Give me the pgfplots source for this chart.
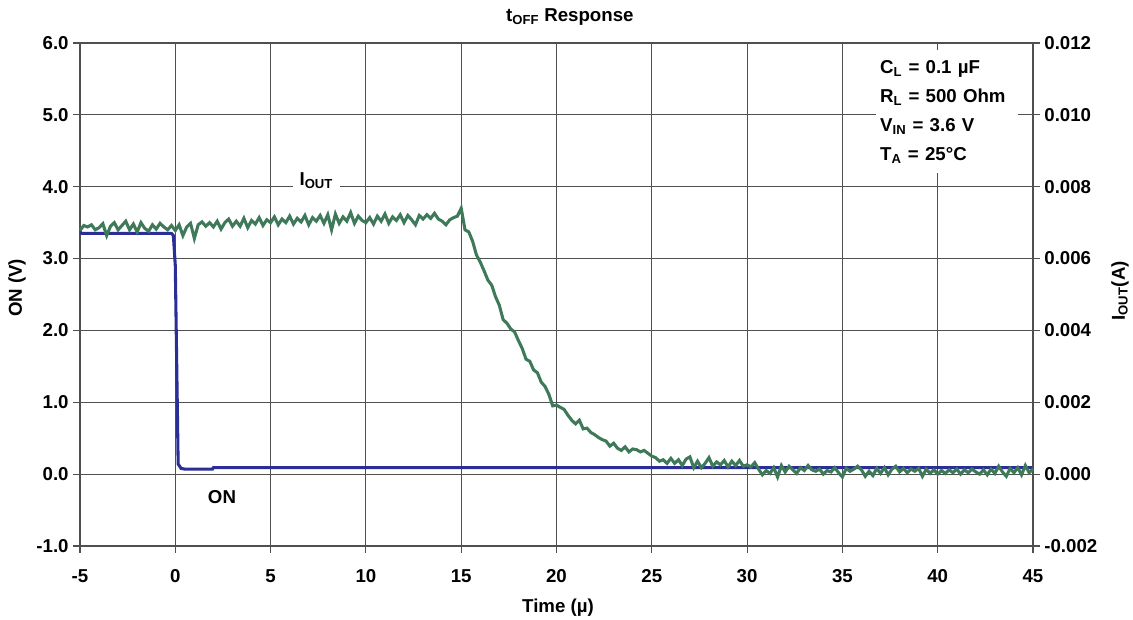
\documentclass[border=0pt]{standalone}
\usepackage{fontspec}
\setmainfont{Liberation Sans}
\usepackage{pgfplots}
\pgfplotsset{compat=1.18}

\definecolor{onblue}{RGB}{43,46,150}
\definecolor{ioutgreen}{RGB}{62,122,90}
\definecolor{gridgray}{RGB}{80,80,80}

\newcommand{\lblfont}{\bfseries\fontsize{14}{16}\selectfont}

\pgfplotsset{
  every axis title shift=0pt,
  base/.style={
    scale only axis, width=714.75pt, height=377.25pt,
    xmin=-5, xmax=45,
    tick align=outside, major tick length=5pt,
    tick style={gridgray, line width=0.8pt},
    axis line style={gridgray, line width=0.8pt},
    ticklabel style={font=\lblfont},
    /pgf/number format/assume math mode=true,
    label style={font=\lblfont},
  }
}

\begin{document}
\begin{tikzpicture}
\path[use as bounding box] (-60pt,-55.5pt) rectangle (789.75pt,409.5pt);

\begin{axis}[base,
  ymin=-1, ymax=6,
  xtick={-5,0,...,45}, ytick={-1,0,...,6},
  xtick pos=bottom, ytick pos=left,
  grid=major, major grid style={gridgray, line width=0.8pt},
  yticklabel style={/pgf/number format/.cd, fixed, fixed zerofill, precision=1},
  xticklabel style={yshift=-9pt},
  xlabel={Time (µ)}, ylabel={ON (V)},
  x label style={at={(axis description cs:0.5016,-0.1233)}, anchor=center},
  y label style={at={(axis description cs:-0.0661,0.513)}, anchor=center},
  title={t\textsubscript{OFF} Response},
  title style={at={(axis description cs:0.514,1.0517)}, anchor=center, font=\lblfont},
]
\addplot[onblue, line width=2.3pt] coordinates {
(-5,3.37) (-4.9,3.35) (-0.2,3.35) (-0.1,3.32) (0.0,2.9) (0.15,0.14)
(0.3,0.08) (0.5,0.07) (1.95,0.07) (2.0,0.09) (45,0.09)
};
\end{axis}

\begin{axis}[base,
  ymin=-0.002, ymax=0.012,
  ytick={-0.002,0,0.002,0.004,0.006,0.008,0.010,0.012},
  axis x line=none, axis y line*=right,
  scaled y ticks=false,
  yticklabel style={/pgf/number format/.cd, fixed, fixed zerofill, precision=3},
  ylabel={I\textsubscript{OUT}(A)},
  y label style={at={(axis description cs:1.0913,0.507)}, anchor=center},
  clip=false,
]
\addplot[ioutgreen, line width=2.3pt] coordinates {
(-5.0,0.00678) (-4.8,0.00692) (-4.6,0.00688) (-4.4,0.00694) (-4.2,0.00680)
(-4.0,0.00686) (-3.8,0.00697) (-3.6,0.00664) (-3.4,0.00690) (-3.2,0.00700)
(-3.0,0.00680) (-2.8,0.00692) (-2.6,0.00704) (-2.4,0.00680) (-2.2,0.00696)
(-2.0,0.00674) (-1.8,0.00700) (-1.6,0.00684) (-1.4,0.00676) (-1.2,0.00694)
(-1.0,0.00682) (-0.8,0.00698) (-0.6,0.00688) (-0.4,0.00680) (-0.2,0.00692)
(0.0,0.00678) (0.2,0.00694) (0.4,0.00664) (0.6,0.00688) (0.8,0.00698)
(1.0,0.00656) (1.2,0.00694) (1.4,0.00702) (1.6,0.00690) (1.8,0.00700)
(2.0,0.00688) (2.2,0.00704) (2.4,0.00682) (2.6,0.00700) (2.8,0.00710)
(3.0,0.00690) (3.2,0.00704) (3.4,0.00690) (3.6,0.00712) (3.8,0.00686)
(4.0,0.00706) (4.2,0.00696) (4.4,0.00714) (4.6,0.00692) (4.8,0.00708)
(5.0,0.00700) (5.2,0.00716) (5.4,0.00694) (5.6,0.00710) (5.8,0.00700)
(6.0,0.00718) (6.2,0.00696) (6.4,0.00712) (6.6,0.00702) (6.8,0.00720)
(7.0,0.00694) (7.2,0.00714) (7.4,0.00704) (7.6,0.00720) (7.8,0.00698)
(8.0,0.00722) (8.2,0.00680) (8.4,0.00724) (8.6,0.00698) (8.8,0.00716)
(9.0,0.00704) (9.2,0.00728) (9.4,0.00698) (9.6,0.00718) (9.8,0.00706)
(10.0,0.00700) (10.2,0.00714) (10.4,0.00696) (10.6,0.00718) (10.8,0.00704)
(11.0,0.00724) (11.2,0.00698) (11.4,0.00716) (11.6,0.00706) (11.8,0.00722)
(12.0,0.00700) (12.2,0.00720) (12.4,0.00708) (12.6,0.00694) (12.8,0.00720)
(13.0,0.00710) (13.2,0.00722) (13.4,0.00712) (13.6,0.00726) (13.8,0.00710)
(14.0,0.00704) (14.2,0.00694) (14.4,0.00708) (14.6,0.00714) (14.8,0.00718)
(15.0,0.00740) (15.2,0.00680) (15.4,0.00674) (15.6,0.00648) (15.8,0.00610)
(16.0,0.00590) (16.2,0.00566) (16.4,0.00540) (16.6,0.00526) (16.8,0.00494)
(17.0,0.00470) (17.2,0.00430) (17.4,0.00420) (17.6,0.00404) (17.8,0.00396)
(18.0,0.00372) (18.2,0.00350) (18.4,0.00320) (18.6,0.00314) (18.8,0.00290)
(19.0,0.00282) (19.2,0.00256) (19.4,0.00244) (19.6,0.00222) (19.8,0.00190)
(20.0,0.00192) (20.2,0.00186) (20.4,0.00180) (20.6,0.00164) (20.8,0.00150)
(21.0,0.00140) (21.2,0.00150) (21.4,0.00126) (21.6,0.00128) (21.8,0.00116)
(22.0,0.00110) (22.2,0.00102) (22.4,0.00096) (22.6,0.00092) (22.8,0.00078)
(23.0,0.00086) (23.2,0.00072) (23.4,0.00066) (23.6,0.00076) (23.8,0.00062)
(24.0,0.00070) (24.2,0.00068) (24.4,0.00062) (24.6,0.00066) (24.8,0.00058)
(25.0,0.00050) (25.2,0.00046) (25.4,0.00036) (25.6,0.00040) (25.8,0.00030)
(26.0,0.00044) (26.2,0.00030) (26.4,0.00040) (26.6,0.00024) (26.8,0.00042)
(27.0,0.00048) (27.2,0.00018) (27.4,0.00036) (27.6,0.00018) (27.8,0.00030)
(28.0,0.00046) (28.2,0.00022) (28.4,0.00034) (28.6,0.00026) (28.8,0.00038)
(29.0,0.00020) (29.2,0.00036) (29.4,0.00024) (29.6,0.00038) (29.8,0.00022)
(30.0,0.00026) (30.2,0.00020) (30.4,0.00032) (30.6,0.00014) (30.8,-0.00002)
(31.0,0.00010) (31.2,0.00002) (31.4,0.00018) (31.6,-0.00008) (31.8,0.00024)
(32.0,0.00006) (32.2,0.00022) (32.4,0.00012) (32.6,0.00002) (32.8,0.00018)
(33.0,0.00010) (33.2,0.00024) (33.4,0.00012) (33.6,0.00008) (33.8,0.00014)
(34.0,0.00000) (34.2,0.00010) (34.4,0.00006) (34.6,0.00018) (34.8,0.00004)
(35.0,-0.00008) (35.2,0.00016) (35.4,0.00008) (35.6,0.00014) (35.8,0.00022)
(36.0,0.00012) (36.2,-0.00006) (36.4,0.00008) (36.6,-0.00004) (36.8,0.00016)
(37.0,0.00002) (37.2,0.00018) (37.4,-0.00002) (37.6,0.00014) (37.8,0.00022)
(38.0,0.00006) (38.2,0.00016) (38.4,0.00004) (38.6,0.00014) (38.8,0.00008)
(39.0,0.00016) (39.2,-0.00006) (39.4,0.00014) (39.6,0.00002) (39.8,0.00012)
(40.0,0.00000) (40.2,0.00010) (40.4,0.00002) (40.6,0.00012) (40.8,0.00004)
(41.0,0.00014) (41.2,0.00000) (41.4,0.00012) (41.6,0.00004) (41.8,0.00014)
(42.0,0.00006) (42.2,0.00000) (42.4,0.00012) (42.6,-0.00002) (42.8,0.00014)
(43.0,0.00002) (43.2,0.00022) (43.4,0.00006) (43.6,-0.00006) (43.8,0.00016)
(44.0,0.00004) (44.2,0.00018) (44.4,-0.00002) (44.6,0.00024) (44.8,0.00004)
(45.0,0.00014)
};
\node[fill=white, inner xsep=5pt, inner ysep=2pt, font=\lblfont]
  at (axis cs:7.4,0.00818) {I\textsubscript{OUT}};
\node[font=\lblfont]
  at (axis cs:2.45,-0.00064) {ON};
\node[fill=white, anchor=north west, inner xsep=3pt, inner ysep=0pt,
  text width=100pt, minimum height=92pt, align=left,
  font=\bfseries\fontsize{14}{21.75}\selectfont]
  at (axis cs:36.76,0.0118)
  {C\textsubscript{L} = 0.1 µF\\R\textsubscript{L} = 500 Ohm\\V\textsubscript{IN} = 3.6 V\\T\textsubscript{A} = 25°C};
\end{axis}
\end{tikzpicture}
\end{document}
